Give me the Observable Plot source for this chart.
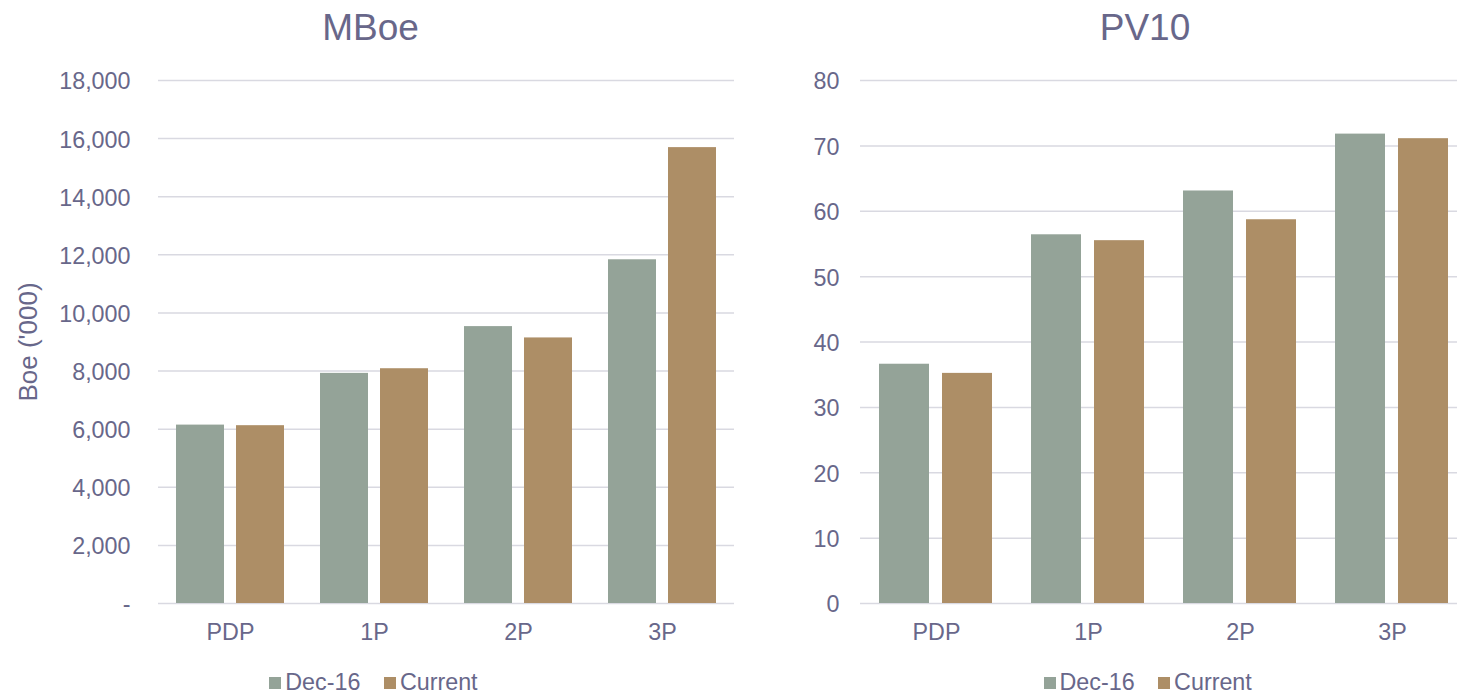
<!DOCTYPE html>
<html>
<head>
<meta charset="utf-8">
<script src="https://cdn.jsdelivr.net/npm/d3@7"></script>
<script src="https://cdn.jsdelivr.net/npm/@observablehq/plot@0.6"></script>
<style>
  html, body { margin: 0; padding: 0; background: #ffffff; }
  body { width: 1457px; height: 694px; overflow: hidden; position: relative;
         font-family: "Liberation Sans", Arial, sans-serif; color: #68678a; }
  .title { position: absolute; font-size: 37px; line-height: 1; white-space: nowrap; transform: translateX(-50%); }
  .chart { position: absolute; top: 60px; }
  .legend { position: absolute; top: 671px; display: flex; align-items: baseline; font-size: 23.3px; line-height: 1; white-space: nowrap; }
  .legend .sw { display: inline-block; width: 12px; height: 12px; margin-right: 4px; position: relative; top: -1.3px; }
  .legend .item { display: flex; align-items: baseline; margin-right: 23.5px; }
  .ylabel { position: absolute; font-size: 26px; line-height: 1; white-space: nowrap; transform: translate(-50%, -50%) rotate(-90deg); }
</style>
</head>
<body>
<script>
// Reserve categories and the two reporting dates
const categories = ["PDP", "1P", "2P", "3P"];
const series = ["Dec-16", "Current"];
const seriesColors = ["#94a398", "#ad8e66"];

// MBoe chart (Boe '000)
const mboeDec16 = [6140, 7920, 9530, 11830];
const mboeCurrent = [6120, 8080, 9140, 15690];
const mboeTicks = [0, 2000, 4000, 6000, 8000, 10000, 12000, 14000, 16000, 18000];
const mboeTickLabels = ["-", "2,000", "4,000", "6,000", "8,000", "10,000", "12,000", "14,000", "16,000", "18,000"];

// PV10 chart
const pv10Dec16 = [36.6, 56.4, 63.1, 71.8];
const pv10Current = [35.2, 55.5, 58.7, 71.1];
const pv10Ticks = [0, 10, 20, 30, 40, 50, 60, 70, 80];
const pv10TickLabels = ["0", "10", "20", "30", "40", "50", "60", "70", "80"];

const textColor = "#68678a";
const gridColor = "#d9d9e1";

function rowsFrom(dec, cur) {
  const rows = [];
  categories.forEach((c, i) => {
    rows.push({category: c, series: series[0], value: dec[i]});
    rows.push({category: c, series: series[1], value: cur[i]});
  });
  return rows;
}

function makeChart({rows, ticks, tickLabels, width, marginLeft, marginRight, tickPadding}) {
  return Plot.plot({
    width,
    height: 593,
    marginTop: 20,
    marginBottom: 50,
    marginLeft,
    marginRight,
    style: {fontSize: "23.3px", fontFamily: '"Liberation Sans", Arial, sans-serif', color: textColor, background: "transparent", overflow: "visible"},
    fx: {domain: categories, padding: 0, label: null},
    x: {domain: series, paddingInner: 0.2, paddingOuter: 0.3, axis: null},
    y: {domain: [ticks[0], ticks[ticks.length - 1]], label: null},
    color: {domain: series, range: seriesColors},
    marks: [
      Plot.gridY(ticks, {stroke: gridColor, strokeOpacity: 1, strokeWidth: 1.5}),
      Plot.barY(rows, {fx: "category", x: "series", y: "value", fill: "series"}),
      Plot.axisY(ticks, {tickSize: 0, tickPadding, dy: 1.5, label: null,
        tickFormat: (d) => tickLabels[ticks.indexOf(d)]}),
      Plot.axisFx({anchor: "bottom", tickSize: 0, tickPadding: 20, label: null})
    ]
  });
}

function addLegend(left) {
  const lg = document.createElement("div");
  lg.className = "legend";
  lg.style.left = left + "px";
  series.forEach((s, i) => {
    const item = document.createElement("div");
    item.className = "item";
    const sw = document.createElement("span");
    sw.className = "sw";
    sw.style.background = seriesColors[i];
    const label = document.createElement("span");
    label.textContent = s;
    item.appendChild(sw);
    item.appendChild(label);
    lg.appendChild(item);
  });
  document.body.appendChild(lg);
}

function addTitle(text, centerX) {
  const t = document.createElement("div");
  t.className = "title";
  t.textContent = text;
  t.style.left = centerX + "px";
  t.style.top = "8.7px";
  document.body.appendChild(t);
}

// Left: MBoe
addTitle("MBoe", 370.5);
const left = makeChart({
  rows: rowsFrom(mboeDec16, mboeCurrent),
  ticks: mboeTicks, tickLabels: mboeTickLabels,
  width: 746, marginLeft: 157, marginRight: 11, tickPadding: 28
});
left.classList.add("chart");
left.style.left = "0px";
document.body.appendChild(left);

const yl = document.createElement("div");
yl.className = "ylabel";
yl.textContent = "Boe ('000)";
yl.style.left = "27.5px";
yl.style.top = "341.7px";
document.body.appendChild(yl);
addLegend(269.3);

// Right: PV10
addTitle("PV10", 1145);
const right = makeChart({
  rows: rowsFrom(pv10Dec16, pv10Current),
  ticks: pv10Ticks, tickLabels: pv10TickLabels,
  width: 699, marginLeft: 80, marginRight: 10, tickPadding: 21
});
right.classList.add("chart");
right.style.left = "779px";
document.body.appendChild(right);
addLegend(1043.5);
</script>
</body>
</html>
